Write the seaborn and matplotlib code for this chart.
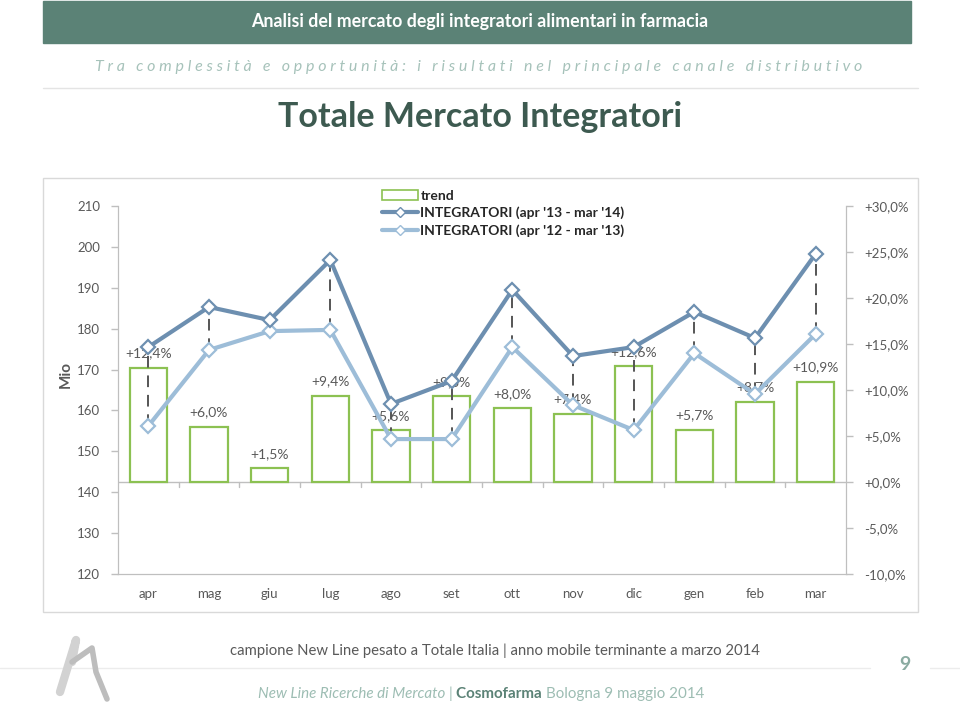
import numpy as np
import pandas as pd
import matplotlib
matplotlib.use("Agg")
import matplotlib.pyplot as plt
import seaborn as sns
from matplotlib.patches import Rectangle, Patch
from matplotlib.lines import Line2D

months = ["apr", "mag", "giu", "lug", "ago", "set", "ott", "nov", "dic", "gen", "feb", "mar"]
trend = [12.4, 6.0, 1.5, 9.4, 5.6, 9.3, 8.0, 7.4, 12.6, 5.7, 8.7, 10.9]
integ_13_14 = [175.5, 185.3, 182.1, 196.8, 161.6, 167.2, 189.5, 173.3, 175.5, 184.1, 177.7, 198.3]
integ_12_13 = [156.2, 174.8, 179.4, 179.7, 153.0, 153.0, 175.5, 161.3, 155.2, 174.0, 164.0, 178.7]
left_ticks = [120, 130, 140, 150, 160, 170, 180, 190, 200, 210]
right_ticks = [-10, -5, 0, 5, 10, 15, 20, 25, 30]

df = pd.DataFrame({"mese": months, "trend": trend,
                   "cur": integ_13_14, "prev": integ_12_13})
df["pos"] = np.arange(len(months))

GREEN = "#8cc152"
DARK = "#6d8fb0"
LIGHT = "#9dbdd8"
GRAY = "#595959"
SPINE = "#bfbfbf"
TEAL = "#5b8276"

sns.set_style("white")
plt.rcParams["font.family"] = ["Lato", "DejaVu Sans"]

fig = plt.figure(figsize=(9.6, 7.1), dpi=100)

# header band and titles
fig.patches.append(Rectangle((43 / 960, 1 - 43 / 710), 868 / 960, 42 / 710,
                             transform=fig.transFigure, color=TEAL, zorder=0))
fig.text(480 / 960, 1 - 21 / 710, "Analisi del mercato degli integratori alimentari in farmacia",
         ha="center", va="center", color="white", fontsize=12.8, fontweight="bold")
sub = "Tra complessità e opportunità: i risultati nel principale canale distributivo"
sub_spaced = "   ".join(" ".join(w) for w in sub.split(" "))
fig.text(479 / 960, 1 - 67 / 710, sub_spaced, ha="center", va="center",
         color="#a6c2ba", fontsize=11.5, style="italic")
fig.add_artist(Line2D([43 / 960, 918 / 960], [1 - 88 / 710, 1 - 88 / 710],
                      transform=fig.transFigure, color="#e4e4e4", lw=1))
fig.text(480 / 960, 1 - 117 / 710, "Totale Mercato Integratori", ha="center", va="center",
         color="#3d5a50", fontsize=24.5, fontweight="bold")

# chart frame
fig.patches.append(Rectangle((43 / 960, 1 - 612 / 710), 875 / 960, 434 / 710,
                             transform=fig.transFigure, fill=False, edgecolor="#d9d9d9", lw=1))

ax = fig.add_axes([118 / 960, 1 - 574 / 710, 728 / 960, 368 / 710])
ax2 = ax.twinx()

# bars: trend (right axis)
sns.barplot(data=df, x="mese", y="trend", ax=ax, fill=False, color=GREEN,
            width=0.62, linewidth=1.6, errorbar=None, zorder=2)
ax.set_ylim(-10, 30)
ax.set_xlim(-0.5, len(months) - 0.5)
ax.axhline(0, color=SPINE, lw=1, zorder=1)
for b in np.arange(len(months) - 1) + 0.5:
    ax.plot([b, b], [0, -0.5], color=SPINE, lw=1)
for i, v in enumerate(trend):
    ax.annotate(f"+{v:.1f}%".replace(".", ","), (i, v), xytext=(0, 6),
                textcoords="offset points", ha="center", va="bottom",
                color=GRAY, fontsize=10, zorder=5)

# lines (left axis)
ax2.vlines(df["pos"], df["prev"], df["cur"], colors="#555555",
           linestyles=(0, (6, 4)), lw=1.4, zorder=2)
sns.lineplot(data=df, x="pos", y="prev", ax=ax2, color=LIGHT, lw=3, marker="D",
             markersize=7, markerfacecolor="white", markeredgecolor=LIGHT,
             markeredgewidth=1.6, zorder=3)
sns.lineplot(data=df, x="pos", y="cur", ax=ax2, color=DARK, lw=3, marker="D",
             markersize=7, markerfacecolor="white", markeredgecolor=DARK,
             markeredgewidth=1.6, zorder=4)
ax2.set_ylim(120, 210)
ax2.set_xlim(-0.5, len(months) - 0.5)

# axes styling: lines on left, bars on right
ax2.yaxis.tick_left()
ax.yaxis.tick_right()
ax2.set_yticks(left_ticks)
ax2.set_yticklabels([str(t) for t in left_ticks])
ax.set_yticks(right_ticks)
ax.set_yticklabels([(f"+{t:.1f}%" if t >= 0 else f"{t:.1f}%").replace(".", ",")
                    for t in right_ticks])
ax.set_xticks(np.arange(len(months)))
ax.set_xticklabels(months)
for a in (ax, ax2):
    a.set_xlabel("")
    a.set_ylabel("")
    for s in a.spines.values():
        s.set_color(SPINE)
    a.spines["top"].set_visible(False)
    a.tick_params(axis="y", colors=GRAY, labelsize=9.5, length=5, width=1,
                  color=SPINE, direction="out", pad=8)
    a.tick_params(axis="x", colors=GRAY, labelsize=9.5, length=0, pad=10)
    a.grid(False)
ax2.tick_params(axis="y", left=True, right=False, labelleft=True, labelright=False)
ax.tick_params(axis="y", left=False, right=True, labelleft=False, labelright=True)

fig.text(66 / 960, 1 - 375 / 710, "Mio", rotation=90, ha="center", va="center",
         color=GRAY, fontsize=11, fontweight="bold")

handles = [Patch(facecolor="white", edgecolor=GREEN, lw=1.2),
           Line2D([], [], color=DARK, lw=3, marker="D", markersize=5,
                  markerfacecolor="white", markeredgecolor=DARK),
           Line2D([], [], color=LIGHT, lw=3, marker="D", markersize=5,
                  markerfacecolor="white", markeredgecolor=LIGHT)]
fig.legend(handles, ["trend", "INTEGRATORI (apr '13 - mar '14)",
                     "INTEGRATORI (apr '12 - mar '13)"],
           loc="upper left", bbox_to_anchor=(369 / 960, 1 - 177 / 710),
           frameon=False, handlelength=2.6, handletextpad=0.2,
           labelspacing=0.35, prop={"weight": "bold", "size": 10})

# footer
fig.text(495 / 960, 1 - 651 / 710,
         "campione New Line pesato a Totale Italia | anno mobile terminante a marzo 2014",
         ha="center", va="center", color=GRAY, fontsize=10.7)
fig.add_artist(Line2D([0, 870 / 960], [1 - 668 / 710, 1 - 668 / 710],
                      transform=fig.transFigure, color="#ececec", lw=1))
fig.add_artist(Line2D([930 / 960, 1], [1 - 668 / 710, 1 - 668 / 710],
                      transform=fig.transFigure, color="#ececec", lw=1))
fig.text(905 / 960, 1 - 665 / 710, "9", ha="center", va="center",
         color="#8aaba1", fontsize=14, fontweight="bold")

# logo (stylised stroke)
fig.add_artist(Line2D([60 / 960, 76 / 960, 72 / 960],
                      [1 - 692 / 710, 1 - 640 / 710, 1 - 662 / 710],
                      transform=fig.transFigure, color="#d2d2d2", lw=6,
                      solid_capstyle="round", solid_joinstyle="round"))
fig.add_artist(Line2D([72 / 960, 92 / 960, 96 / 960, 107 / 960],
                      [1 - 662 / 710, 1 - 648 / 710, 1 - 672 / 710, 1 - 699 / 710],
                      transform=fig.transFigure, color="#bdbdbd", lw=4,
                      solid_capstyle="round", solid_joinstyle="round"))

renderer = fig.canvas.get_renderer()
parts = [("New Line Ricerche di Mercato ", dict(style="italic", color="#9dbdb3")),
         ("| ", dict(color="#9dbdb3")),
         ("Cosmofarma ", dict(fontweight="bold", color=TEAL)),
         ("Bologna 9 maggio 2014", dict(color="#9dbdb3"))]
x = 258 / 960
for txt, kw in parts:
    t = fig.text(x, 1 - 694 / 710, txt, ha="left", va="center", fontsize=10.9, **kw)
    bb = t.get_window_extent(renderer=renderer)
    x += bb.width / fig.bbox.width

fig.savefig("out.png", dpi=100)
